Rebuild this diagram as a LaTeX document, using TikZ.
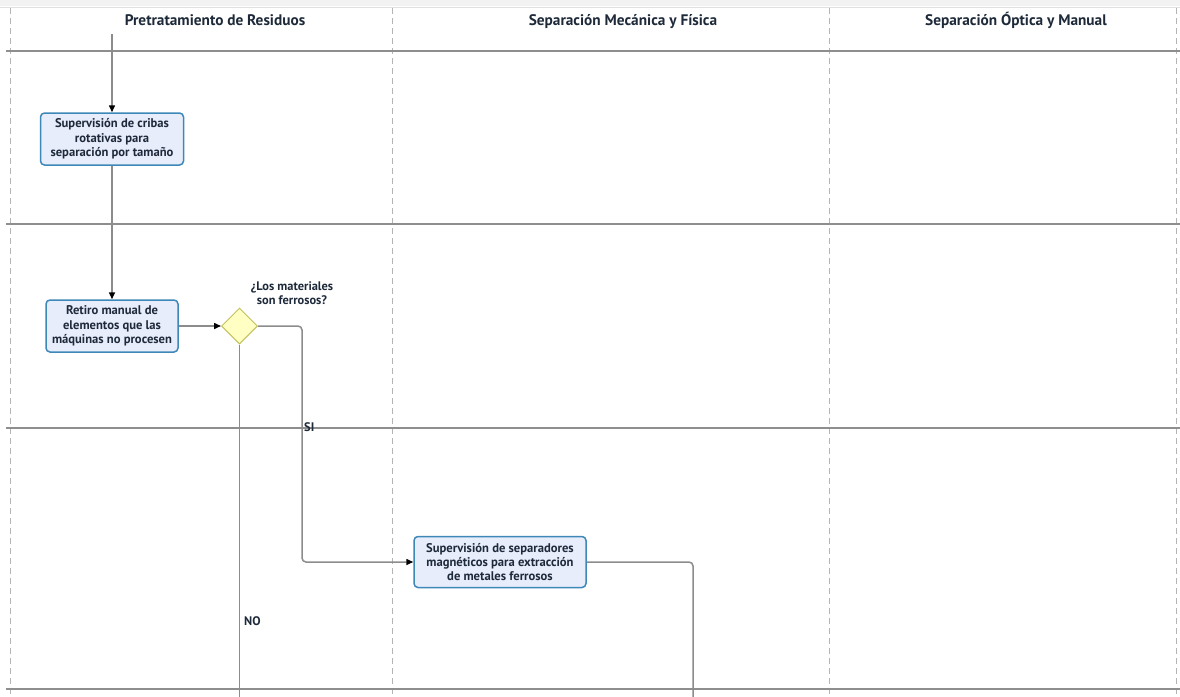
\documentclass[tikz,border=0pt]{standalone}
\usepackage{fontspec}
\setmainfont{PT Sans}
\usetikzlibrary{arrows.meta,shapes.geometric}
\definecolor{lanegray}{HTML}{8E8E8E}
\definecolor{dashgray}{HTML}{B4B4B4}
\definecolor{flowgray}{HTML}{8C8C8C}
\definecolor{taskfill}{HTML}{E8EDFC}
\definecolor{taskline}{HTML}{3E88B8}
\definecolor{gatefill}{HTML}{FFFFC4}
\definecolor{gateline}{HTML}{C2C25C}
\definecolor{textcol}{HTML}{1E2A3A}
\tikzset{
  lane/.style={draw=lanegray, line width=1.3pt},
  sep/.style={draw=dashgray, line width=1pt, dash pattern=on 6pt off 4pt},
  task/.style={draw=taskline, fill=taskfill, line width=1.5pt, rounded corners=4pt,
    align=center, font=\bfseries\fontsize{12.6}{14.3}\selectfont, text=textcol, inner sep=0pt},
  gate/.style={diamond, draw=gateline, fill=gatefill, line width=1pt,
    minimum width=36pt, minimum height=36pt, inner sep=0pt},
  flow/.style={draw=flowgray, line width=1.5pt, rounded corners=4pt},
  tip/.style={-{Triangle[length=7pt,width=6pt,fill=black,color=black]}},
  lbl/.style={font=\bfseries\fontsize{12.4}{13.5}\selectfont, text=textcol, align=center},
  head/.style={font=\bfseries\fontsize{15.3}{17}\selectfont, text=textcol, anchor=base}
}
\begin{document}
\begin{tikzpicture}[x=1pt,y=-1pt]
\useasboundingbox (0,0) rectangle (1180,696);
% header strip
\fill[white] (0,0) rectangle (1180,696);
\fill[black!5] (0,0) rectangle (1180,6);
\draw[black!12, line width=1pt] (0,7) -- (1180,7);
% lane separators
\foreach \x in {10,392,829,1176} \draw[sep] (\x,8) -- (\x,696);
\foreach \y in {51,224,428,689} \draw[lane] (6,\y) -- (1180,\y);
% column headings
\node[head] (h1) at (215,25) {Pretratamiento de Residuos};
\node[head] (h2) at (623,25) {Separación Mecánica y Física};
\node[head] (h3) at (1016,25) {Separación Óptica y Manual};
% tasks
\node[task, minimum width=143pt, minimum height=52pt] (t1) at (112,139)
  {Supervisión de cribas\\rotativas para\\separación por tamaño};
\node[task, minimum width=132pt, minimum height=52pt] (t2) at (112,326)
  {Retiro manual de\\elementos que las\\máquinas no procesen};
\node[gate] (g1) at (239.5,326) {};
\node[lbl] (q1) at (292,293) {¿Los materiales\\son ferrosos?};
\node[task, minimum width=172pt, minimum height=51pt] (t3) at (500,562)
  {Supervisión de separadores\\magnéticos para extracción\\de metales ferrosos};
% free ends
\coordinate (s0) at (112,34);
\coordinate (e1) at (239.5,697);
\coordinate (e2) at (693,697);
% connectors
\draw[flow, tip] (s0) -- (t1.north);
\draw[flow, tip] (t1.south) -- (t2.north);
\draw[flow, tip] (t2.east) -- (g1.west);
\draw[flow, tip] (g1.east) -- (302,326) -- (302,562) -- (t3.west);
\draw[flow] (g1.south) -- (e1);
\draw[flow] (t3.east) -- (693,562) -- (e2);
% flow labels
\node[lbl, anchor=west, inner sep=0pt] (si) at (304,427) {SI};
\node[lbl, anchor=west, inner sep=0pt] (no) at (244,621) {NO};
\end{tikzpicture}
\end{document}
